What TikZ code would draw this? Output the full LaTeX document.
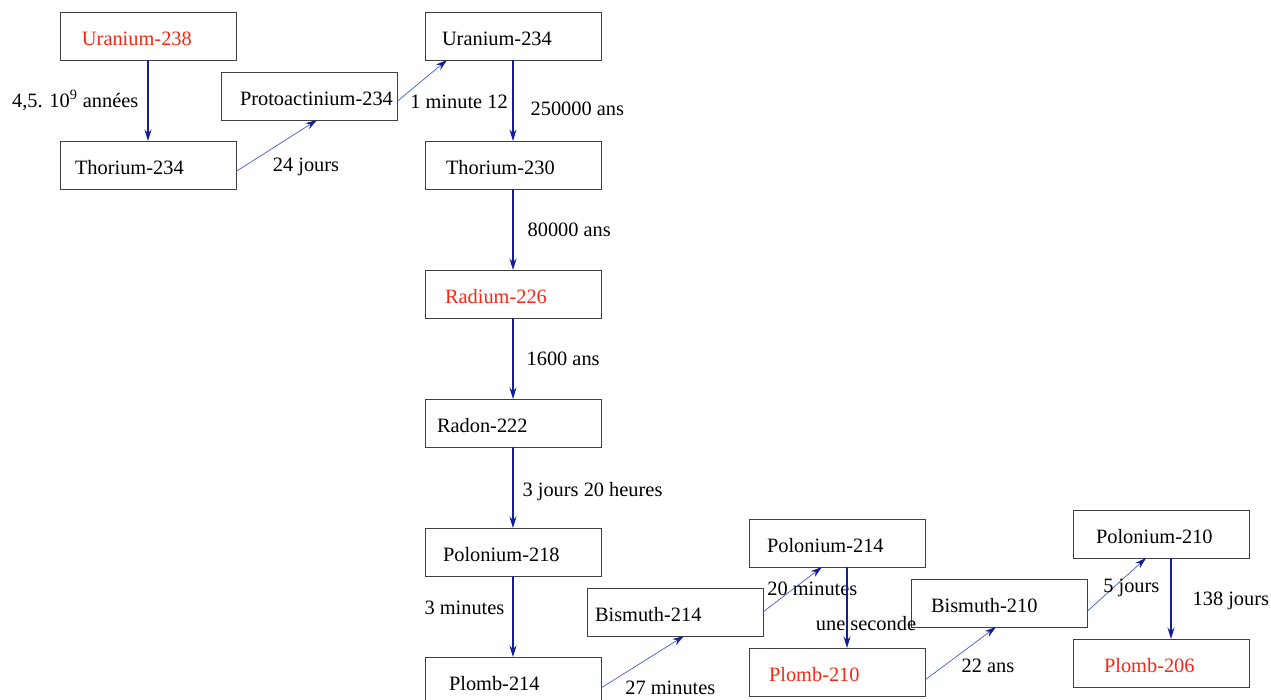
\documentclass[tikz,border=0pt]{standalone}
\usepackage{fontspec}
\setmainfont{Liberation Serif}
\usetikzlibrary{arrows.meta, positioning, calc}

\definecolor{rouge}{RGB}{245,40,20}
\definecolor{bleufonce}{RGB}{20,30,150}
\definecolor{bleuclair}{RGB}{70,90,215}

\begin{document}
\begin{tikzpicture}[
        node distance=1.62cm and 3.78cm,
        % Boites des noyaux (texte cale a gauche)
        noyau/.style={rectangle, draw=black!75, line width=0.5pt, outer sep=0pt, minimum width=3.52cm, minimum height=0.96cm, text width=3.52cm, text height=0.66cm, text depth=0.30cm, inner xsep=0pt, inner ysep=0pt, align=left, font=\fontsize{11.6}{14}\selectfont},
        noyaucle/.style={noyau, text=rouge},
        % Fleches : verticales foncees, obliques fines
        fleche/.style={-{Stealth[length=2.3mm, width=1.4mm]}, line width=0.7pt, draw=bleufonce},
        saut/.style={-{Stealth[length=2.3mm, width=1.4mm, color=bleufonce]}, line width=0.4pt, draw=bleuclair},
        duree/.style={inner sep=0pt, font=\fontsize{11.6}{14}\selectfont}
    ]

    \useasboundingbox (-1.2,0.24) rectangle (24.22,-13.76);

    % 1. Debut de la chaine
    \node (u238) [noyaucle, anchor=north west] at (0,0) {\hspace*{0.44cm}Uranium-238};
    \node (th234) [noyau, below=of u238] {\hspace*{0.30cm}Thorium-234};
    \node (pa234) [noyau, above right=0.42cm and -0.3cm of th234] {\hspace*{0.38cm}Protoactinium-234};

    % 2. Colonne principale
    \node (u234) [noyau, right=of u238] {\hspace*{0.34cm}Uranium-234};
    \node (th230) [noyau, below=of u234] {\hspace*{0.42cm}Thorium-230};
    \node (ra226) [noyaucle, below=of th230] {\hspace*{0.40cm}Radium-226};
    \node (rn222) [noyau, below=of ra226] {\hspace*{0.24cm}Radon-222};
    \node (po218) [noyau, below=of rn222] {\hspace*{0.36cm}Polonium-218};
    \node (pb214) [noyau, below=of po218] {\hspace*{0.48cm}Plomb-214};

    % 3. Fin de la chaine (escalier)
    \node (bi214) [noyau, above right=0.42cm and -0.28cm of pb214] {\hspace*{0.16cm}Bismuth-214};
    \node (po214) [noyau, above right=0.42cm and -0.28cm of bi214] {\hspace*{0.36cm}Polonium-214};
    \node (pb210) [noyaucle, below=of po214] {\hspace*{0.40cm}Plomb-210};
    \node (bi210) [noyau, above right=0.42cm and -0.28cm of pb210] {\hspace*{0.40cm}Bismuth-210};
    \node (po210) [noyau, above right=0.42cm and -0.28cm of bi210] {\hspace*{0.46cm}Polonium-210};
    \node (pb206) [noyaucle, below=of po210] {\hspace*{0.62cm}Plomb-206};

    % Fleches et periodes
    \draw [fleche] (u238) -- (th234) node (d1) [duree, midway, left=0.18cm] {4,5. 10\textsuperscript{9} années};
    \draw [saut] ($(th234.east)+(0,-0.13)$) -- ($(pa234.south)+(0.16,0)$) node (d2) [duree, at end, xshift=-0.22cm, yshift=-0.94cm] {24 jours};
    \draw [saut] ($(pa234.east)+(0,-0.11)$) -- ($(u234.south west)+(0.44,0)$) node (d3) [duree, at start, anchor=west, xshift=0.26cm] {1 minute 12};
    \draw [fleche] (u234) -- (th230) node (d4) [duree, midway, right=0.34cm, yshift=-0.17cm] {250000 ans};
    \draw [fleche] (th230) -- (ra226) node (d5) [duree, midway, right=0.28cm] {80000 ans};
    \draw [fleche] (ra226) -- (rn222) node (d6) [duree, midway, right=0.26cm] {1600 ans};
    \draw [fleche] (rn222) -- (po218) node (d7) [duree, midway, right=0.18cm, yshift=-0.08cm] {3 jours 20 heures};
    \draw [fleche] (po218) -- (pb214) node (d8) [duree, midway, left=0.16cm, yshift=0.18cm] {3 minutes};
    \draw [saut] ($(pb214.east)+(0,-0.14)$) -- ($(bi214.south)+(0.18,0)$) node (d9) [duree, at start, anchor=west, xshift=0.48cm] {27 minutes};
    \draw [saut] (bi214.east) -- ($(po214.south)+(-0.3,0)$) node (d10) [duree, at start, anchor=west, xshift=0.08cm, yshift=0.46cm] {20 minutes};
    \draw [fleche] ($(po214.south)+(0.2,0)$) -- ($(pb210.north)+(0.2,0)$) node (d11) [duree, midway, xshift=0.38cm, yshift=-0.33cm] {une seconde};
    \draw [saut] ($(pb210.east)+(0,-0.16)$) -- ($(bi210.south)+(-0.06,0)$) node (d12) [duree, at end, xshift=-0.16cm, yshift=-0.78cm] {22 ans};
    \draw [saut] ($(bi210.east)+(0,-0.17)$) -- ($(po210.south)+(-0.3,0)$) node (d13) [duree, at start, anchor=west, xshift=0.32cm, yshift=0.48cm] {5 jours};
    \draw [fleche] ($(po210.south)+(0.2,0)$) -- ($(pb206.north)+(0.2,0)$) node (d14) [duree, midway, right=0.42cm, yshift=-0.05cm] {138 jours};

\end{tikzpicture}
\end{document}
